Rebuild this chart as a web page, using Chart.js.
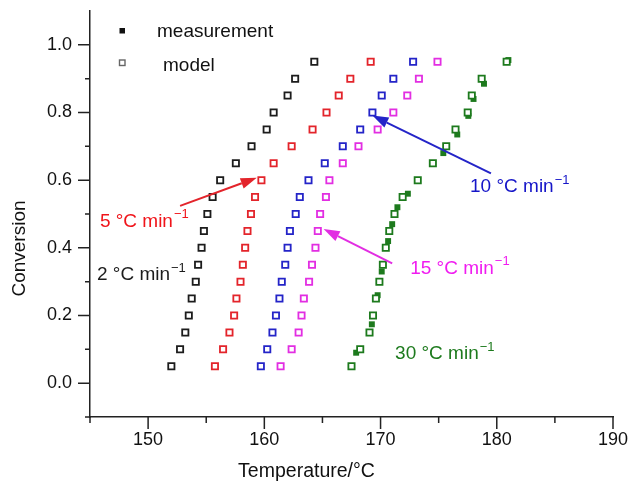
<!DOCTYPE html>
<html>
<head>
<meta charset="utf-8">
<script src="https://cdn.jsdelivr.net/npm/chart.js@4"></script>
<style>
  html, body { margin: 0; padding: 0; background: #fff; }
</style>
</head>
<body>
<canvas id="chart" width="628" height="486"></canvas>
<script>
// conversion levels used by the model curves
const conversion = [0.05, 0.10, 0.15, 0.20, 0.25, 0.30, 0.35, 0.40, 0.45, 0.50,
                    0.55, 0.60, 0.65, 0.70, 0.75, 0.80, 0.85, 0.90, 0.95];

// model temperatures (°C) for each heating rate
const model2  = [152.0, 152.75, 153.2, 153.5, 153.75, 154.1, 154.3, 154.6, 154.8, 155.1,
                 155.55, 156.2, 157.55, 158.9, 160.2, 160.8, 162.0, 162.65, 164.3];
const model5  = [155.75, 156.45, 157.0, 157.4, 157.6, 157.95, 158.15, 158.35, 158.55, 158.85,
                 159.2, 159.75, 160.8, 162.35, 164.15, 165.35, 166.4, 167.4, 169.15];
const model10 = [159.7, 160.25, 160.7, 161.0, 161.3, 161.5, 161.8, 162.0, 162.2, 162.7,
                 163.05, 163.8, 165.2, 166.75, 168.25, 169.3, 170.1, 171.1, 172.8];
const model15 = [161.4, 162.35, 162.95, 163.2, 163.4, 163.85, 164.1, 164.4, 164.6, 164.8,
                 165.3, 165.6, 166.75, 168.1, 169.75, 171.1, 172.3, 173.3, 174.9];
const model30 = [167.5, 168.25, 169.05, 169.35, 169.6, 169.9, 170.2, 170.45, 170.75, 171.2,
                 171.9, 173.2, 174.5, 175.65, 176.45, 177.5, 177.85, 178.7, 180.85];

// measured points (only where they show next to the model squares)
const meas2T  = [153.75, 162.0];
const meas2C  = [0.25, 0.85];
const meas5T  = [157.6, 158.85];
const meas5C  = [0.25, 0.50];
const meas10T = [161.3, 161.5, 162.2];
const meas10C = [0.25, 0.30, 0.45];
const meas15T = [163.2, 164.8, 166.75];
const meas15C = [0.20, 0.50, 0.65];
const meas30T = [167.45, 167.9, 169.25, 169.75, 170.1, 170.65, 171.0, 171.45, 172.35, 175.4,
                 176.6, 177.55, 178.0, 178.9, 181.0];
const meas30C = [0.048, 0.09, 0.174, 0.26, 0.33, 0.42, 0.47, 0.52, 0.56, 0.68,
                 0.735, 0.79, 0.84, 0.885, 0.955];

const xTicks = [150, 160, 170, 180, 190];
const xMinor = [145, 155, 165, 175, 185];
const yTicks = [0.0, 0.2, 0.4, 0.6, 0.8, 1.0];
const yMinor = [-0.1, 0.1, 0.3, 0.5, 0.7, 0.9];

const rateLabels = ['2 °C min', '5 °C min', '10 °C min', '15 °C min', '30 °C min'];

const FONT = '"Liberation Sans", Arial, Helvetica, sans-serif';
const colors = {
  c2: '#1c1c1c', c5: '#e3242b', c10: '#2424c8', c15: '#e22ee2', c30: '#1d7a1d'
};

function pts(temps, conv) {
  return temps.map((t, i) => ({ x: t, y: conv[i] }));
}
function modelSet(temps, color) {
  return {
    data: pts(temps, conversion), showLine: false, order: 0,
    pointStyle: 'rect', pointRadius: 4.4, pointBorderWidth: 1.8,
    pointBackgroundColor: '#fff', pointBorderColor: color
  };
}
function measSet(temps, conv, color) {
  return {
    data: pts(temps, conv), showLine: false, order: 1,
    pointStyle: 'rect', pointRadius: 4.2, pointBorderWidth: 0,
    pointBackgroundColor: color, pointBorderColor: color
  };
}

// tick marks, legend, rate labels and arrows
const decor = {
  id: 'decor',
  afterDraw(chart) {
    const { ctx, scales: { x, y } } = chart;
    ctx.save();
    ctx.strokeStyle = '#222';
    ctx.lineWidth = 1.5;
    ctx.beginPath();
    xTicks.forEach(v => { const p = x.getPixelForValue(v); ctx.moveTo(p, y.bottom); ctx.lineTo(p, y.bottom + 12); });
    xMinor.forEach(v => { const p = x.getPixelForValue(v); ctx.moveTo(p, y.bottom); ctx.lineTo(p, y.bottom + 6); });
    yTicks.forEach(v => { const p = y.getPixelForValue(v); ctx.moveTo(x.left, p); ctx.lineTo(x.left - 12, p); });
    yMinor.forEach(v => { const p = y.getPixelForValue(v); ctx.moveTo(x.left, p); ctx.lineTo(x.left - 5, p); });
    ctx.stroke();

    // legend
    ctx.fillStyle = '#111';
    ctx.fillRect(119.5, 28, 5.5, 5.5);
    ctx.strokeStyle = '#666';
    ctx.lineWidth = 1.4;
    ctx.strokeRect(119.5, 60, 5.5, 5.5);
    ctx.fillStyle = '#111';
    ctx.font = '19px ' + FONT;
    ctx.textBaseline = 'middle';
    ctx.textAlign = 'left';
    ctx.fillText('measurement', 157, 32);
    ctx.fillText('model', 163, 66);

    // arrows
    const arrows = [
      { from: [152.75, 0.524], to: [159.35, 0.607], color: colors.c5 },
      { from: [179.5, 0.62], to: [169.3, 0.791], color: colors.c10 },
      { from: [171.0, 0.354], to: [165.1, 0.456], color: colors.c15 }
    ];
    arrows.forEach(a => {
      const x0 = x.getPixelForValue(a.from[0]), y0 = y.getPixelForValue(a.from[1]);
      const x1 = x.getPixelForValue(a.to[0]), y1 = y.getPixelForValue(a.to[1]);
      const ang = Math.atan2(y1 - y0, x1 - x0);
      const len = 16, half = 5.5;
      const bx = x1 - len * Math.cos(ang), by = y1 - len * Math.sin(ang);
      ctx.strokeStyle = a.color;
      ctx.fillStyle = a.color;
      ctx.lineWidth = 2;
      ctx.beginPath();
      ctx.moveTo(x0, y0);
      ctx.lineTo(bx, by);
      ctx.stroke();
      ctx.beginPath();
      ctx.moveTo(x1, y1);
      ctx.lineTo(bx + half * Math.sin(ang), by - half * Math.cos(ang));
      ctx.lineTo(bx - half * Math.sin(ang), by + half * Math.cos(ang));
      ctx.closePath();
      ctx.fill();
    });

    // heating rate labels
    const spots = [
      { at: [145.6, 0.319], color: colors.c2 },
      { at: [145.85, 0.477], color: '#f0141a' },
      { at: [177.7, 0.58], color: '#1515c8' },
      { at: [172.55, 0.339], color: '#f01cf0' },
      { at: [171.25, 0.086], color: colors.c30 }
    ];
    spots.forEach((s, i) => {
      const px = x.getPixelForValue(s.at[0]), py = y.getPixelForValue(s.at[1]);
      ctx.fillStyle = s.color;
      ctx.font = '19px ' + FONT;
      ctx.fillText(rateLabels[i], px, py);
      const w = ctx.measureText(rateLabels[i]).width;
      ctx.font = '13px ' + FONT;
      ctx.fillText('\u22121', px + w + 1, py - 7);
    });
    ctx.restore();
  }
};

new Chart(document.getElementById('chart'), {
  type: 'scatter',
  data: {
    datasets: [
      modelSet(model2, colors.c2), modelSet(model5, colors.c5), modelSet(model10, colors.c10),
      modelSet(model15, colors.c15), modelSet(model30, colors.c30),
      measSet(meas2T, meas2C, colors.c2), measSet(meas5T, meas5C, colors.c5),
      measSet(meas10T, meas10C, colors.c10), measSet(meas15T, meas15C, colors.c15),
      measSet(meas30T, meas30C, colors.c30)
    ]
  },
  options: {
    responsive: false,
    animation: false,
    devicePixelRatio: 1,
    layout: { padding: { top: 11, right: 15, left: 0, bottom: 0 } },
    plugins: {
      legend: { display: false },
      tooltip: { enabled: false },
      title: {
        display: true, text: 'Temperature/°C', position: 'bottom', color: '#111',
        font: { family: FONT, size: 19.5, weight: 'normal' }, padding: { top: 0, bottom: 3 }
      },
      subtitle: {
        display: true, text: 'Conversion', position: 'left', color: '#111',
        font: { family: FONT, size: 19, weight: 'normal' }, padding: { top: 8, bottom: 0 }
      }
    },
    scales: {
      x: {
        type: 'linear', min: 145, max: 190,
        afterBuildTicks: s => { s.ticks = xTicks.map(v => ({ value: v })); },
        afterFit: s => { s.height = 486 - 417 - 26.4; s.paddingLeft = 0; s.paddingRight = 0; },
        grid: { display: false, drawTicks: false },
        border: { display: true, color: '#222', width: 1.5 },
        ticks: { color: '#111', padding: 12, font: { family: FONT, size: 18 }, maxRotation: 0 }
      },
      y: {
        type: 'linear', min: -0.1, max: 1.1,
        afterBuildTicks: s => { s.ticks = yTicks.map(v => ({ value: v })); },
        afterFit: s => { s.width = 90 - 30.8; s.paddingTop = 0; s.paddingBottom = 0; },
        grid: { display: false, drawTicks: false },
        border: { display: true, color: '#222', width: 1.5 },
        ticks: { color: '#111', padding: 18, font: { family: FONT, size: 18 },
                 callback: v => v.toFixed(1) }
      }
    }
  },
  plugins: [decor]
});
</script>
</body>
</html>
